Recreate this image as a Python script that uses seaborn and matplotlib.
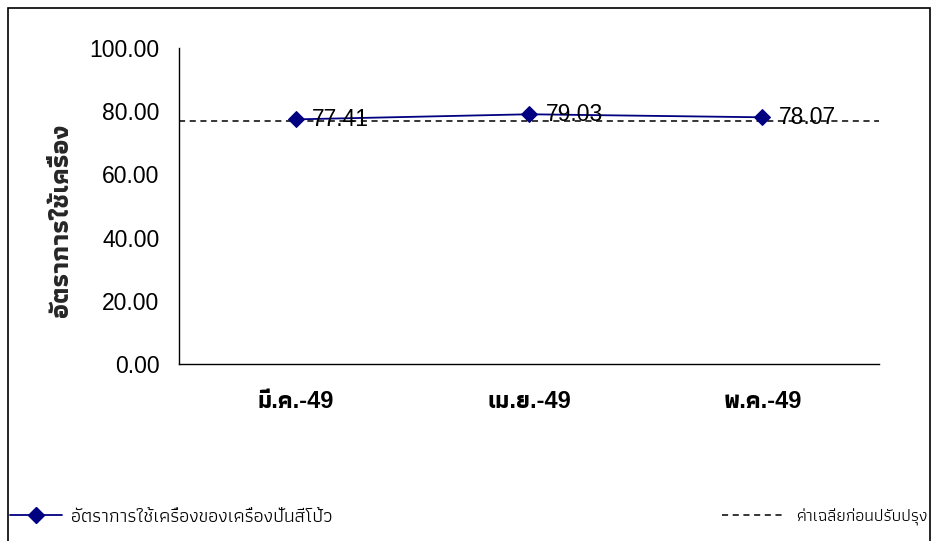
import numpy as np
import pandas as pd
import matplotlib
matplotlib.use("Agg")
import matplotlib.pyplot as plt
import matplotlib.patches as mpatches
from matplotlib.lines import Line2D
import seaborn as sns

months = ["มี.ค.-49", "เม.ย.-49", "พ.ค.-49"]
usage_rate = [77.41, 79.03, 78.07]
baseline_avg = 76.9
y_ticks = [0, 20, 40, 60, 80, 100]

series_label = "อัตราการใช้เครื่องของเครื่องปั่นสีโป้ว"
baseline_label = "ค่าเฉลี่ยก่อนปรับปรุง"
y_title = "อัตราการใช้เครื่อง"

sns.set_style("white")
main_fonts = ["Liberation Sans", "Athiti", "Noto Sans Thai", "Anuphan", "DejaVu Sans"]
plt.rcParams["font.family"] = main_fonts
plt.rcParams["text.color"] = "black"
plt.rcParams["xtick.color"] = "black"
plt.rcParams["ytick.color"] = "black"

df = pd.DataFrame({"month": months, "rate": usage_rate})

fig = plt.figure(figsize=(9.36, 5.41), dpi=100)
ax = fig.add_axes([179 / 936, 1 - 364 / 541, 700 / 936, 316 / 541])

navy = "#000080"
ax.axhline(baseline_avg, color="black", lw=1.1, dashes=(4, 3), zorder=1)
sns.lineplot(data=df, x="month", y="rate", ax=ax, color=navy, lw=1.3,
             marker="D", markersize=8, markeredgecolor=navy, sort=False,
             zorder=3)

for i, v in enumerate(usage_rate):
    ax.annotate(f"{v:.2f}", (i, v), xytext=(12, 0), textcoords="offset points",
                ha="left", va="center", fontsize=16.5, color="black", zorder=4)

ax.set_xlim(-0.5, len(months) - 0.5)
ax.set_ylim(0, 100)
ax.set_yticks(y_ticks)
ax.set_yticklabels([f"{t:.2f}" for t in y_ticks], fontsize=16.5)
ax.set_xticks(np.arange(-0.5, len(months), 1.0))
ax.set_xticklabels([])
ax.set_xticks(range(len(months)), minor=True)
ax.set_xticklabels(months, minor=True, fontsize=17, fontweight="bold")
ax.tick_params(axis="x", which="major", direction="out", length=6, width=1)
ax.tick_params(axis="x", which="minor", length=0, pad=19)
ax.tick_params(axis="y", direction="out", length=6, width=1, pad=8)
ax.set_xlabel("")
ax.set_ylabel(y_title, fontsize=19, fontweight="bold")
ax.yaxis.set_label_coords(-0.152, 0.456)

for side in ["top", "right"]:
    ax.spines[side].set_visible(False)
for side in ["left", "bottom"]:
    ax.spines[side].set_color("black")
    ax.spines[side].set_linewidth(1)

# outer chart frame
frame = mpatches.Rectangle((8 / 936, -0.02), 922 / 936, 1 - 8 / 541 + 0.02,
                           transform=fig.transFigure, fill=False,
                           edgecolor="black", lw=1.2)
fig.patches.append(frame)

h1 = Line2D([], [], color=navy, lw=1.3, marker="D", markersize=8)
h2 = Line2D([], [], color="black", lw=1.1, dashes=(4, 3))
leg1 = fig.legend([h1], [series_label], loc="center left",
                  bbox_to_anchor=(2 / 936, 1 - 517 / 541), frameon=False,
                  prop={"size": 14}, handlelength=2.7, handletextpad=0.45,
                  borderaxespad=0)
leg2 = fig.legend([h2], [baseline_label], loc="center right",
                  bbox_to_anchor=(935 / 936, 1 - 517 / 541), frameon=False,
                  prop={"size": 12.5}, handlelength=3.6, handletextpad=0.7,
                  borderaxespad=0)

fig.savefig("out.png", dpi=100)
